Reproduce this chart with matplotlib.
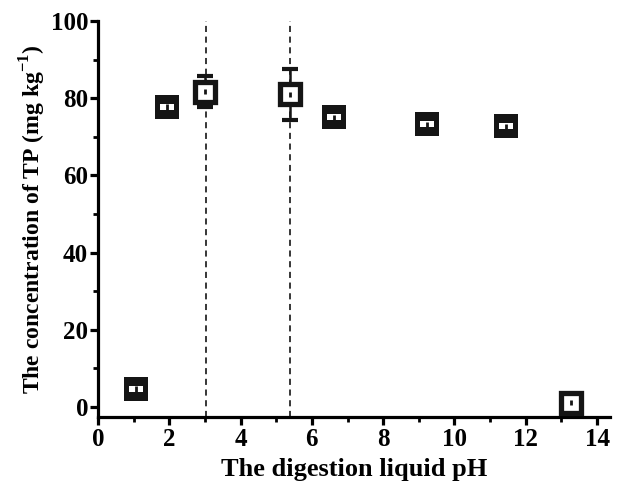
import numpy as np
import matplotlib
matplotlib.use("Agg")
import matplotlib.pyplot as plt
from matplotlib.ticker import MultipleLocator

# digestion liquid pH vs total phosphorus concentration
ph = [1.08, 1.94, 3.01, 5.38, 6.63, 9.24, 11.44, 13.28]
tp = [4.6, 77.7, 81.7, 81.0, 75.0, 73.2, 72.7, 1.1]
tp_err = [0.6, 0.6, 3.9, 6.6, 0.6, 0.6, 0.6, 0.6]
open_marker = [False, False, True, True, False, False, False, True]
dash_ph = [3.02, 5.39]

plt.rcParams['font.family'] = ['Liberation Serif', 'DejaVu Serif']
plt.rcParams['font.weight'] = 'bold'
plt.rcParams['mathtext.fontset'] = 'custom'
plt.rcParams['mathtext.rm'] = 'Liberation Serif:bold'
plt.rcParams['mathtext.bf'] = 'Liberation Serif:bold'

fig = plt.figure(figsize=(6.24, 4.86), dpi=100)
ax = fig.add_axes([0.157, 0.142, 0.821, 0.815])

for x in dash_ph:
    ax.axvline(x, color='black', linestyle=(0, (4, 3)), linewidth=1.1, zorder=1)

flat_rect = [(-1, -0.5), (1, -0.5), (1, 0.5), (-1, 0.5), (-1, -0.5)]
ink = '#151515'

for x, y, e, op in zip(ph, tp, tp_err, open_marker):
    if e > 2:
        # big error bars sit behind the hollow marker
        ax.errorbar(x, y, yerr=e, fmt='none', ecolor=ink, elinewidth=1.8,
                    capsize=5.5, capthick=3.0, zorder=2)
    if op:
        ax.plot(x, y, marker='s', markersize=14.5, markeredgewidth=3.8,
                markerfacecolor='white', markeredgecolor=ink,
                linestyle='none', zorder=3)
    else:
        ax.plot(x, y, marker='s', markersize=17.5, markeredgewidth=0,
                markerfacecolor=ink, linestyle='none', zorder=3)
        ax.plot(x, y, marker=flat_rect, markersize=10, markeredgewidth=0,
                markerfacecolor='white', linestyle='none', zorder=3.5)
    # small centre tick inside each marker
    ax.errorbar(x, y, yerr=0.7, fmt='none', ecolor=ink, elinewidth=2.0,
                capsize=0, zorder=4)

ax.set_xlim(0, 14.37)
ax.set_ylim(-2.6, 100)
ax.xaxis.set_major_locator(MultipleLocator(2))
ax.xaxis.set_minor_locator(MultipleLocator(1))
ax.yaxis.set_major_locator(MultipleLocator(20))
ax.yaxis.set_minor_locator(MultipleLocator(10))

for s in ['top', 'right']:
    ax.spines[s].set_visible(False)
for s in ['left', 'bottom']:
    ax.spines[s].set_linewidth(2.3)

ax.tick_params(which='major', direction='out', length=6, width=2.3, labelsize=18)
ax.tick_params(which='minor', direction='out', length=3.5, width=2.0)
ax.tick_params(axis='x', pad=2)
ax.tick_params(axis='y', pad=1)
for lbl in ax.get_xticklabels() + ax.get_yticklabels():
    lbl.set_fontweight('bold')

ax.set_xlabel("The digestion liquid pH", fontsize=19, fontweight='bold', labelpad=5)
ax.set_ylabel("The concentration of TP (mg kg$^{-1}$)", fontsize=17, fontweight='bold', labelpad=2)

fig.savefig("out.png", dpi=100)
